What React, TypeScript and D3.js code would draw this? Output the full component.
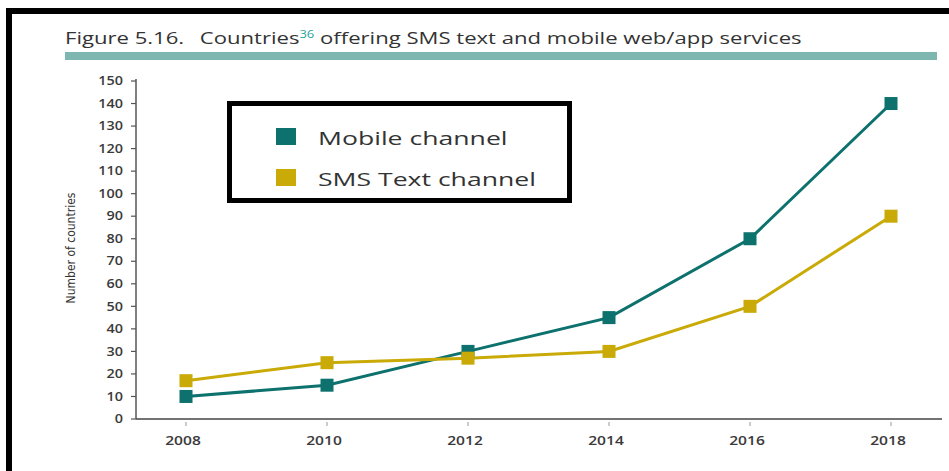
import React from "react";
import * as d3 from "d3";

const years = [2008, 2010, 2012, 2014, 2016, 2018];
const mobile = [10, 15, 30, 45, 80, 140];
const sms = [17, 25, 27, 30, 50, 90];
const yTicks = [0, 10, 20, 30, 40, 50, 60, 70, 80, 90, 100, 110, 120, 130, 140, 150];
const seriesNames = ["Mobile channel", "SMS Text channel"];
const colors = ["#0d716d", "#c9aa06"];

const W = 949;
const H = 471;
const font = "'Open Sans', 'Noto Sans', sans-serif";

export default function App() {
  const x = d3.scaleLinear().domain([2008, 2018]).range([186, 891]);
  const y = d3.scaleLinear().domain([0, 150]).range([419, 81]);
  const line = d3
    .line<number>()
    .x((_, i) => x(years[i]))
    .y((d) => y(d));
  const series = [mobile, sms];
  const m = 13;
  return (
    <svg
      width={W}
      height={H}
      style={{ position: "absolute", left: 0, top: 0, background: "#fff" }}
      fontFamily={font}
    >
      <rect x={0} y={0} width={W} height={H} fill="#fff" />
      {/* outer frame */}
      <rect x={6} y={8} width={W - 6} height={6} fill="#000" />
      <rect x={6} y={8} width={6} height={H - 8} fill="#000" />
      {/* title */}
      <g transform="translate(65,44) scale(1.3,1)">
        <text x={0} y={0} fontSize={17} fill="#333">
          <tspan>Figure 5.16.</tspan>
          <tspan dx={12}>Countries</tspan>
          <tspan dy={-6} fontSize={10} fill="#2aa39a">36</tspan>
          <tspan dy={6}> offering SMS text and mobile web/app services</tspan>
        </text>
      </g>
      <rect x={65} y={52} width={872} height={8} fill="#7db7b0" />
      {/* y axis */}
      <line x1={136} x2={136} y1={y(150) - 2} y2={y(0)} stroke="#555" strokeWidth={1.5} />
      {yTicks.map((t) => (
        <g key={t}>
          <line x1={131} x2={136} y1={y(t)} y2={y(t)} stroke="#555" strokeWidth={1.2} />
          <g transform={`translate(123,${y(t)}) scale(1.2,1)`}>
            <text
              x={0}
              y={0}
              dy="0.35em"
              textAnchor="end"
              fontSize={12}
              fontWeight={600}
              fill="#3a3a3a"
            >
              {t}
            </text>
          </g>
        </g>
      ))}
      <text
        transform={`translate(75,248) rotate(-90)`}
        textAnchor="middle"
        fontSize={12}
        fill="#333"
        fontFamily="'Liberation Sans Narrow', 'DejaVu Sans Condensed', sans-serif"
      >
        Number of countries
      </text>
      {/* x axis */}
      <line x1={136} x2={942} y1={y(0)} y2={y(0)} stroke="#444" strokeWidth={1.5} />
      {years.map((yr) => (
        <g key={yr}>
          <line x1={x(yr)} x2={x(yr)} y1={y(0) + 3} y2={y(0) + 7} stroke="#999" strokeWidth={1} />
          <g transform={`translate(${x(yr) - 3},445) scale(1.3,1)`}>
            <text
              x={0}
              y={0}
              textAnchor="middle"
              fontSize={12}
              fontWeight={600}
              fill="#3a3a3a"
            >
              {yr}
            </text>
          </g>
        </g>
      ))}
      {/* series */}
      {series.map((s, si) => (
        <g key={si}>
          <path d={line(s) || ""} fill="none" stroke={colors[si]} strokeWidth={3} />
          {s.map((v, i) => (
            <rect
              key={i}
              x={x(years[i]) - m / 2}
              y={y(v) - m / 2}
              width={m}
              height={m}
              fill={colors[si]}
            />
          ))}
        </g>
      ))}
      {/* legend */}
      <rect x={229.5} y={103.5} width={340} height={97} fill="#fff" stroke="#000" strokeWidth={5} />
      {seriesNames.map((n, i) => (
        <g key={n}>
          <rect x={276} y={128 + i * 41} width={20} height={17} fill={colors[i]} />
          <g transform={`translate(318,${138 + i * 41}) scale(1.4,1)`}>
            <text x={0} y={0} dy="0.35em" fontSize={19} fill="#333">
              {n}
            </text>
          </g>
        </g>
      ))}
    </svg>
  );
}
